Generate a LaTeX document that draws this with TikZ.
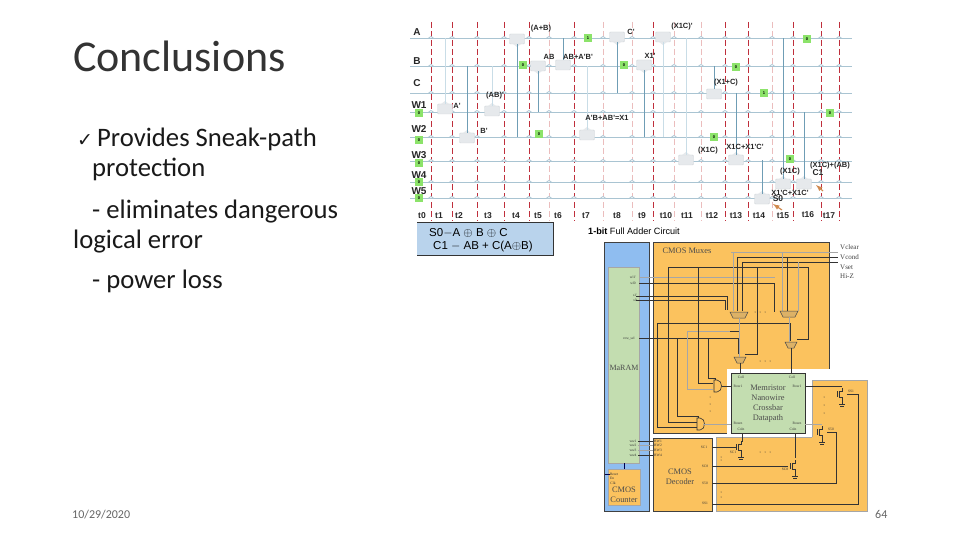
\documentclass[tikz,border=0pt]{standalone}
\usepackage{fontspec}
\setmainfont{Carlito}
\newfontfamily\labelfont{Liberation Sans}
\newfontfamily\ckttext{Liberation Serif}
\newfontfamily\checkfont{DejaVu Sans}
\definecolor{wirecol}{HTML}{A9C4D2}
\definecolor{wiredark}{HTML}{6F9DB5}
\definecolor{wirepale}{HTML}{C9DDE7}
\definecolor{dashred}{HTML}{BF2F3C}
\definecolor{dashpale}{HTML}{EBBDBD}
\definecolor{gatefill}{HTML}{E6E9EC}
\definecolor{gateline}{HTML}{D0D5D9}
\definecolor{bitgreen}{HTML}{8CE36A}
\definecolor{eqnblue}{HTML}{B9D3EC}
\definecolor{panelblue}{HTML}{8FBDF0}
\definecolor{panelgreen}{HTML}{C3DDB0}
\definecolor{panelorange}{HTML}{FBC25E}
\definecolor{arrowtan}{HTML}{D08A50}
\tikzset{
  slidetext/.style={anchor=base west,inner sep=0pt,font=\fontsize{26.67}{26.67}\selectfont,text=black!90},
  footer/.style={anchor=base west,inner sep=0pt,font=\fontsize{12}{12}\selectfont,text=black!60},
  sig/.style={inner sep=0pt,font=\labelfont\bfseries\fontsize{7.5}{7.5}\selectfont,text=black!85},
  rowname/.style={inner sep=0pt,font=\labelfont\bfseries\fontsize{10}{10}\selectfont,text=black!85},
  timename/.style={inner sep=0pt,font=\labelfont\bfseries\fontsize{8.5}{8.5}\selectfont,text=black!85},
  bitbox/.style={fill=bitgreen,inner sep=0pt,minimum size=8,font=\labelfont\bfseries\fontsize{4}{4}\selectfont},
  gate/.style={draw=gateline,fill=gatefill,rounded corners=1,minimum width=15,minimum height=10,inner sep=0pt},
  timeline/.style={dash pattern=on 6 off 3,line width=0.9},
  wire/.style={wirecol,line width=0.7},
  tap/.style={wiredark,line width=0.8},
  paletap/.style={wirepale,line width=0.8},
  panel/.style={draw=black!75,line width=0.7},
  ckt/.style={black!80,line width=0.6},
  cktpale/.style={black!35,line width=0.6},
  tiny/.style={inner sep=0pt,font=\ckttext\fontsize{3.6}{3.6}\selectfont,text=black!80},
  cktname/.style={inner sep=0pt,align=center,font=\ckttext\fontsize{8.4}{10}\selectfont,text=black!70},
  hint/.style={arrowtan,line width=1.2,-latex},
}
\begin{document}
\begin{tikzpicture}[x=1pt,y=-1pt]
  \useasboundingbox (0,0) rectangle (960,540);
  \fill[white] (0,0) rectangle (960,540);
  % slide text
  \node[anchor=base west,inner sep=0pt,font=\fontsize{44}{44}\selectfont,text=black!80] (title) at (73,72) {Conclusions};
  \node[slidetext] (item1) at (73,147) {\makebox[24pt][c]{\checkfont\fontsize{19}{19}\selectfont ✓}Provides Sneak-path};
  \node[slidetext] (item1b) at (92,177) {protection};
  \node[slidetext] (item2) at (92,218) {- eliminates dangerous};
  \node[slidetext] (item2b) at (73,248) {logical error};
  \node[slidetext] (item3) at (92,288) {- power loss};
  \node[footer] (date) at (72,518) {10/29/2020};
  \node[footer] (page) at (875,518) {64};
  % time lines
  \foreach \x in {431,452,477,504,529,574,653,725,748,793,821,839}
    \draw[dashred,timeline] (\x,22) -- (\x,221);
  \foreach \x in {549,603,632,674,701,772}
    \draw[dashpale,timeline] (\x,22) -- (\x,221);
  % memory rows
  \foreach \n/\y in {A/38,B/66,C/93,W1/112,W2/137,W3/161,W4/182,W5/198} {
    \coordinate (w\n) at (410,\y);
    \draw[wire] (w\n) -- (852,\y);
    \foreach \x in {431,452,477,504,529,549,574,603,632,653,674,701,725,748,772,793,821,839}
      \draw[wire,fill=white] (\x-2.5,\y) .. controls (\x-1.5,\y-2) and (\x+1.5,\y-2) .. (\x+2.5,\y);
  }
  \node[rowname] (nameA) at (417,32) {A};
  \node[rowname] (nameB) at (417,61) {B};
  \node[rowname] (nameC) at (417,83) {C};
  \node[rowname] (nameW1) at (419,105) {W1};
  \node[rowname] (nameW2) at (419,129) {W2};
  \node[rowname] (nameW3) at (419,155) {W3};
  \node[rowname] (nameW4) at (419,175) {W4};
  \node[rowname] (nameW5) at (419,191) {W5};
  \foreach \t/\x/\y in {0/422/216,1/439/216,2/459/216,3/488/216,4/516/216,5/538/216,6/558/216,7/586/216,8/617/216,9/642/216,10/666/216,11/687/216,12/712/216,13/736/216,14/759/216,15/783/216,16/808/215,17/829/216}
    \node[timename] (time\t) at (\x,\y) {t\t};
  % gates
  \foreach \n/\x/\y in {gAorB/517/39,gAB/538/66,gNotC/617/37,gXCn/663/37,gXn/644/65} {
    \node[gate] (\n) at (\x,\y) {};
    \fill[gatefill] (\x-4,\y+5) -- (\x,\y+8) -- (\x+4,\y+5) -- cycle;
  }
  \foreach \n/\x/\y in {gAn/445/109,gABn/492/111,gBn/467/138,gXor/587/135,gXCa/686/160,gSum/736/160,gXCb/783/184,gCarry/804/184,gS/762/199} {
    \node[gate] (\n) at (\x,\y) {};
    \fill[gatefill] (\x-4,\y-5) -- (\x,\y-8) -- (\x+4,\y-5) -- cycle;
  }
  \node[gate] (gOr) at (563,65) {};
  \node[gate] (gXorC) at (714,94) {};
  % taps
  \draw[paletap] (gAn.north) -- (gAn.north |- wA);
  \draw[tap] (gBn.north) -- (gBn.north |- wB);
  \draw[paletap] (gABn.north) -- (gABn.north |- wB);
  \draw[tap] (gAorB.south) -- (gAorB.south |- wW2);
  \draw[tap] (gAB.south) -- (gAB.south |- wW1);
  \draw[tap] (gOr.north) -- (gOr.north |- wA);
  \draw[paletap] (gXor.north) -- (gXor.north |- wB);
  \draw[tap] (gNotC.south) -- (gNotC.south |- wC);
  \draw[tap] (gXn.south) -- (gXn.south |- wW2);
  \draw[paletap] (gXCn.south) -- (gXCn.south |- wW2);
  \draw[paletap] (gXCa.north) -- (gXCa.north |- wA);
  \draw[tap] (gXorC.north) -- (gXorC.north |- wB);
  \draw[tap] (gSum.north) -- (gSum.north |- wC);
  \draw[wiredark,line width=0.6] (gS.north) -- (gS.north |- gSum);
  \draw[tap] (gXCb.north) -- (gXCb.north |- wA);
  \draw[tap] (gCarry.north) -- (gCarry.north |- wW1);
  % bits
  \foreach \n/\b/\x/\y in {a/0/419/113,b/0/419/140,c/0/419/163,d/0/419/182,e/0/419/198,f/1/588/38,g/0/523/65,h/0/539/134,i/0/624/65,j/0/807/39,k/0/736/67,l/1/764/93,m/0/830/113,n/0/714/137,o/0/790/159}
    \node[bitbox] (bit\n) at (\x,\y) {\b};
  % signal names
  \node[sig] (lblAorB) at (541,29) {(A+B)};
  \node[sig] (lblAB) at (549,57) {AB};
  \node[sig] (lblOr) at (578,57) {AB+A'B'};
  \node[sig] (lblAn) at (457,106) {A'};
  \node[sig] (lblABn) at (495,96) {(AB)'};
  \node[sig] (lblBn) at (484,131) {B'};
  \node[sig] (lblCn) at (631,32) {C'};
  \node[sig] (lblXn) at (650,56) {X1'};
  \node[sig] (lblXCn) at (682,27) {(X1C)'};
  \node[sig] (lblXorC) at (726,83) {(X1+C)};
  \node[sig] (lblXor) at (607,118) {A'B+AB'=X1};
  \node[sig] (lblXCa) at (708,151) {(X1C)};
  \node[sig] (lblSum) at (745,147) {X1C+X1'C'};
  \node[sig] (lblXCb) at (790,172) {(X1C)};
  \node[sig] (lblCarry) at (830,166) {(X1C)+(AB)};
  \node[timename] (lblC1) at (818,173) {C1};
  \node[sig] (lblS) at (790,193) {X1'C+X1C'};
  \node[timename] (lblS0) at (778,199) {S0};
  \coordinate (hintS) at (782,210);
  \coordinate (hintC) at (823,191);
  \draw[hint] (hintS) -- (773,204);
  \draw[hint] (hintC) -- (816,185);
  % equations
  \fill[eqnblue] (417,222) rectangle (553,255);
  \draw[black!80,line width=0.8] (417,222) -- (553,222) -- (553,255) -- (417,255);
  \node[anchor=west,inner sep=0pt,font=\labelfont\fontsize{11.5}{11.5}\selectfont] (eqnS) at (429,233) {S0$-$A $\oplus$ B $\oplus$ C};
  \node[anchor=west,inner sep=0pt,font=\labelfont\fontsize{11.5}{11.5}\selectfont] (eqnC) at (433,247) {C1 $-$ AB + C(A$\oplus$B)};
  \node[inner sep=0pt,font=\labelfont\fontsize{9.1}{9.1}\selectfont] (adder) at (634,231) {\textbf{1-bit} Full Adder Circuit};
  % architecture panels
  \fill[panelorange] (653,242) rectangle (829,369);
  \fill[panelorange] (653,369) rectangle (727,433);
  \fill[panelorange] (716,437) -- (812,437) -- (812,380) -- (867,380) -- (867,511) -- (716,511) -- cycle;
  \draw[panel] (653,369) -- (653,242) -- (829,242) -- (829,369);
  \draw[panel] (653,369) -- (653,433) -- (727,433);
  \draw[panel,black!35] (812,437) -- (812,380) -- (867,380);
  \draw[panel,black!35] (867,380) -- (867,511) -- (716,511) -- (716,437) -- (812,437);
  \draw[panel,fill=panelorange] (653,438) rectangle (712,511);
  \draw[panel,fill=panelblue] (604,242) rectangle (649,511);
  \draw[draw=gray!70,fill=panelgreen,line width=0.5] (608,267) rectangle (639,463);
  \draw[draw=gray!70,fill=panelorange,line width=0.5] (608,469) rectangle (640,505);
  \draw[black!80,line width=0.9,fill=panelgreen] (731,373) rectangle (805,433);
  % panel names
  \node[cktname] (muxname) at (687,251) {CMOS Muxes};
  \node[cktname,font=\ckttext\fontsize{8}{10}\selectfont] (ramname) at (624,368) {MaRAM};
  \node[cktname] (countname) at (624,495) {CMOS\\Counter};
  \node[cktname] (decname) at (680,477) {CMOS\\Decoder};
  \node[cktname] (xbarname) at (768,404) {Memristor\\Nanowire\\Crossbar\\Datapath};
  \node[anchor=west,inner sep=0pt,font=\ckttext\fontsize{7}{9.7}\selectfont,align=left,text=black!75] (pinname) at (840,262) {Vclear\\Vcond\\Vset\\Hi-Z};
  % supply rails
  \draw[cktpale] (731,252) -- (838,252);
  \draw[ckt] (737,257) -- (838,257);
  \draw[ckt] (742,262) -- (838,262);
  \draw[ckt] (668,267) -- (808,267);
  \draw[cktpale] (639,277) -- (775,277);
  \draw[ckt] (639,283) -- (774,283) -- (774,312);
  \draw[ckt] (636,296) -- (727,296) -- (727,310);
  \draw[ckt] (636,300) -- (725,300) -- (725,310);
  \draw[ckt] (639,338) -- (738,338) -- (738,354);
  \draw[ckt] (657,323) -- (790,323) -- (790,341);
  \draw[cktpale] (687,331) -- (730,331);
  \draw[ckt] (730,331) -- (739,331);
  % mux inputs
  \foreach \x/\y in {733/252,782/252,798/262}
    \draw[cktpale] (\x,\y) -- (\x,311);
  \foreach \x/\y in {737/257,742/262,787/257}
    \draw[ckt] (\x,\y) -- (\x,311);
  \foreach \n/\x/\y/\w in {muxA/739/315/9,muxB/789/314/9,muxC/740/360/6,muxD/791/345/6} {
    \node[inner sep=0pt,minimum width=2*\w,minimum height=6] (\n) at (\x,\y) {};
    \draw[black!70,fill=panelorange!75!gray,line width=0.5] (\x-\w,\y-3) -- (\x+\w,\y-3) -- (\x+\w-3,\y+3) -- (\x-\w+3,\y+3) -- cycle;
  }
  \draw[ckt] (808,267) -- (808,339) -- (797,339);
  \draw[ckt] (757,267) -- (757,354) -- (745,354);
  \draw[cktpale] (muxA.south) -- (muxA.south |- muxC.north);
  \draw[cktpale] (muxB.south) -- (muxB.south |- muxD.north);
  \draw[ckt] (muxC.south) -- (muxC.south |- 0,373);
  \draw[ckt] (muxD.south) -- (muxD.south |- 0,373);
  % nets down to the and gates
  \draw[ckt] (657,323) -- (657,427) -- (697,427);
  \draw[ckt] (668,267) -- (668,422) -- (697,422);
  \draw[ckt] (677,338) -- (677,416) -- (698,416) -- (698,419);
  \draw[cktpale] (687,331) -- (687,389) -- (713,389);
  \draw[ckt] (698,267) -- (698,383) -- (713,383);
  \draw[ckt] (708,338) -- (708,378) -- (715,378) -- (715,381);
  \foreach \x/\y in {714/380,697/418} {
    \draw[ckt,fill=panelorange] (\x,\y) -- (\x+3,\y) .. controls (\x+9,\y) and (\x+9,\y+12) .. (\x+3,\y+12) -- (\x,\y+12) -- cycle;
  }
  \draw[ckt] (722,386) -- (731,386);
  \draw[cktpale] (703,424) -- (731,424);
  % bit lines
  \draw[ckt] (638,441) -- (653,441);
  \draw[cktpale] (638,445) -- (653,445);
  \draw[cktpale] (638,450) -- (653,450);
  \draw[ckt] (638,455) -- (653,455);
  \draw[ckt,black!70!blue] (ramname |- 0,463) -- (countname |- 0,469);
  \draw[ckt,black!70!blue] (605,474) -- (610,474);
  % select lines
  \draw[ckt] (712,447) -- (736,447);
  \draw[ckt] (712,466) -- (788,466);
  \draw[ckt] (712,483) -- (836,483) -- (836,432) -- (827,432);
  \draw[ckt] (712,504) -- (858,504) -- (858,394) -- (847,394);
  \draw[ckt] (805,386) -- (842,386);
  \draw[cktpale] (805,424) -- (822,424);
  \draw[ckt] (795,433) -- (795,458);
  \draw[ckt] (742,433) -- (742,442);
  % pass transistors
  \foreach \x/\y in {842/394,822/432,795/466,741/447} {
    \draw[ckt] (\x,\y-6) -- (\x,\y-3) -- (\x-3,\y-3) -- (\x-3,\y+3) -- (\x,\y+3) -- (\x,\y+10);
    \draw[ckt] (\x-5,\y-3) -- (\x-5,\y+3);
    \draw[ckt] (\x-3,\y+10) -- (\x+3,\y+10);
    \draw[ckt] (\x-2,\y+12) -- (\x+2,\y+12);
  }
  % dots
  \foreach \x/\y in {755/312,760/312,765/312,760/361,765/361,770/361,710/397,710/404,710/411,824/397,824/405,824/413,721/457,721/460,721/492,721/497,760/452,765/452,770/452}
    \fill[black!80] (\x,\y) circle (0.5);
  % pin labels
  \foreach \n/\t/\x/\y in {a/wl1'/633/277,b/wl0/633/283,c/s1'/635/295,d/s0/635/300,e/row\_sel/629/338,f/ww1/633/441,g/ww2/633/445,h/ww3/633/450,i/ww4/633/455,j/Reset/614/474,k/En/612/478,l/Clk/613/483,m/BW1/658/441,n/BW2/658/445,o/BW3/658/450,p/BW4/658/455,q/SC1/704/447,r/SC8/705/466,s/S50/705/483,t/SS1/705/503,u/Coll/741/377,v/Coll/792/377,w/Row1/738/386,x/Row1/797/386,y/Rown/738/423,z/Rown/797/423,A/Coln/741/429,B/Coln/793/429,C/SS1/851/391,D/S50/831/429,E/SC8/785/469,F/SC1/733/452}
    \node[tiny] (pin\n) at (\x,\y) {\t};
\end{tikzpicture}
\end{document}
